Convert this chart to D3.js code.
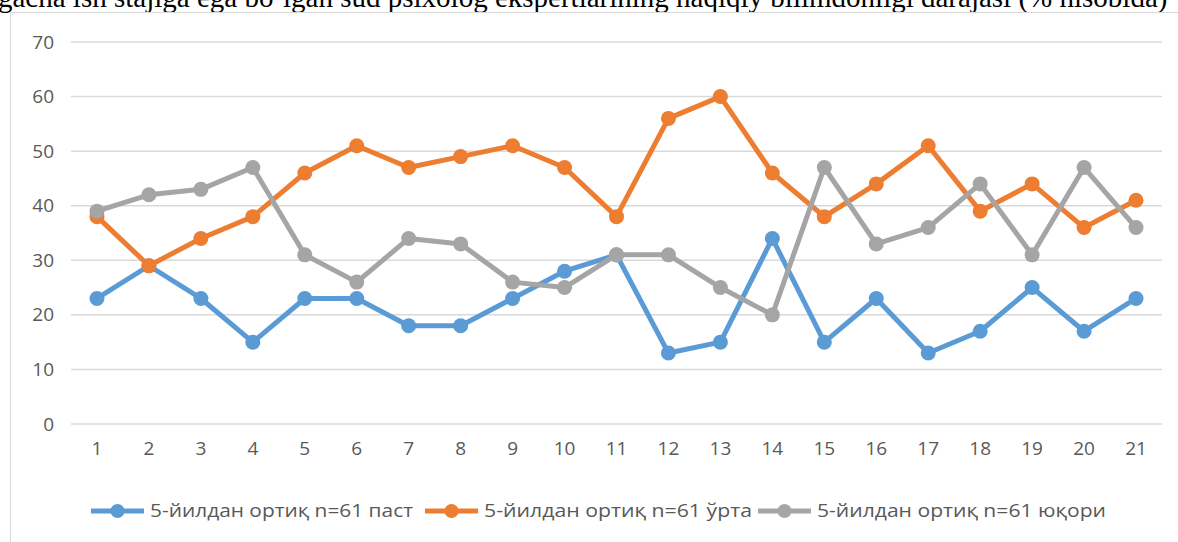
<!DOCTYPE html>
<head>
<meta charset="utf-8">
<style>
  body { margin: 0; background: #fff; overflow: hidden; }
  svg { display: block; }
</style>
</head>
<body>
<script src="https://cdn.jsdelivr.net/npm/d3@7"></script>
<script>

// data
var categories = d3.range(1, 22).map(String);
var past  = [23, 29, 23, 15, 23, 23, 18, 18, 23, 28, 31, 13, 15, 34, 15, 23, 13, 17, 25, 17, 23];
var orta  = [38, 29, 34, 38, 46, 51, 47, 49, 51, 47, 38, 56, 60, 46, 38, 44, 51, 39, 44, 36, 41];
var yuqori = [39, 42, 43, 47, 31, 26, 34, 33, 26, 25, 31, 31, 25, 20, 47, 33, 36, 44, 31, 47, 36];
var yTicks = [0, 10, 20, 30, 40, 50, 60, 70];
var seriesNames = ["5-йилдан ортиқ n=61 паст", "5-йилдан ортиқ n=61 ўрта", "5-йилдан ортиқ n=61 юқори"];
var titleText = "gacha ish stajiga ega bo‘lgan sud psixolog ekspertlarining haqiqiy bilimdonligi darajasi (% hisobida)";

var series = [
  { name: seriesNames[0], values: past,   color: "#5B9BD5" },
  { name: seriesNames[1], values: orta,   color: "#ED7D31" },
  { name: seriesNames[2], values: yuqori, color: "#A5A5A5" }
];

var width = 1178, height = 542;

var svg = d3.select("body").append("svg")
    .attr("width", width)
    .attr("height", height);

// title, cut off at the top of the picture like in the source
svg.append("text")
    .attr("x", -2)
    .attr("y", 7)
    .attr("font-family", "Liberation Serif, Times New Roman, serif")
    .attr("font-size", 29)
    .attr("fill", "#000")
    .text(titleText);

// chart box border (only left and top are visible)
svg.append("path")
    .attr("d", "M10.5," + height + "V12.5H" + width)
    .attr("fill", "none")
    .attr("stroke", "#D9D9D9")
    .attr("stroke-width", 1);

var x = d3.scaleBand().domain(categories).range([71, 1162]).padding(0);
var y = d3.scaleLinear().domain([0, 70]).range([424, 42]);
var cx = function (i) { return x(categories[i]) + x.bandwidth() / 2; };

var labelFont = "Open Sans, Noto Sans, sans-serif";

// gridlines
svg.append("g")
    .selectAll("line")
    .data(yTicks)
    .enter().append("line")
    .attr("x1", 71).attr("x2", 1162)
    .attr("y1", function (d) { return y(d); })
    .attr("y2", function (d) { return y(d); })
    .attr("stroke", "#D9D9D9")
    .attr("stroke-width", 1.5);

// y axis labels
var yAxis = d3.axisLeft(y).tickValues(yTicks).tickSize(0).tickPadding(0);
var gy = svg.append("g").attr("transform", "translate(54,0)").call(yAxis);
gy.select(".domain").remove();
gy.selectAll("text")
    .attr("font-family", labelFont)
    .attr("font-size", 19)
    .attr("fill", "#595959");

// x axis labels
var xAxis = d3.axisBottom(x).tickSize(0).tickPadding(0);
var gx = svg.append("g").attr("transform", "translate(0,441)").call(xAxis);
gx.select(".domain").remove();
gx.selectAll("text")
    .attr("font-family", labelFont)
    .attr("font-size", 19)
    .attr("fill", "#595959");

// lines and markers
var line = d3.line()
    .x(function (d, i) { return cx(i); })
    .y(function (d) { return y(d); });

series.forEach(function (s) {
  var g = svg.append("g");
  g.append("path")
      .datum(s.values)
      .attr("d", line)
      .attr("fill", "none")
      .attr("stroke", s.color)
      .attr("stroke-width", 5)
      .attr("stroke-linejoin", "round");
  g.selectAll("circle")
      .data(s.values)
      .enter().append("circle")
      .attr("cx", function (d, i) { return cx(i); })
      .attr("cy", function (d) { return y(d); })
      .attr("r", 7.5)
      .attr("fill", s.color);
});

// legend
var legendX = [91, 425, 758];
var legendW = [263, 268, 289];
var legend = svg.append("g")
    .selectAll("g")
    .data(series)
    .enter().append("g")
    .attr("transform", function (d, i) { return "translate(" + legendX[i] + ",511)"; });

legend.append("line")
    .attr("x1", 0).attr("x2", 53)
    .attr("stroke", function (d) { return d.color; })
    .attr("stroke-width", 5);
legend.append("circle")
    .attr("cx", 26.5)
    .attr("r", 7)
    .attr("fill", function (d) { return d.color; });
legend.append("text")
    .attr("x", 59)
    .attr("dy", "0.36em")
    .attr("font-family", labelFont)
    .attr("font-size", 18)
    .attr("fill", "#595959")
    .attr("textLength", function (d, i) { return legendW[i]; })
    .attr("lengthAdjust", "spacingAndGlyphs")
    .text(function (d) { return d.name; });

</script>
</body>
</html>
